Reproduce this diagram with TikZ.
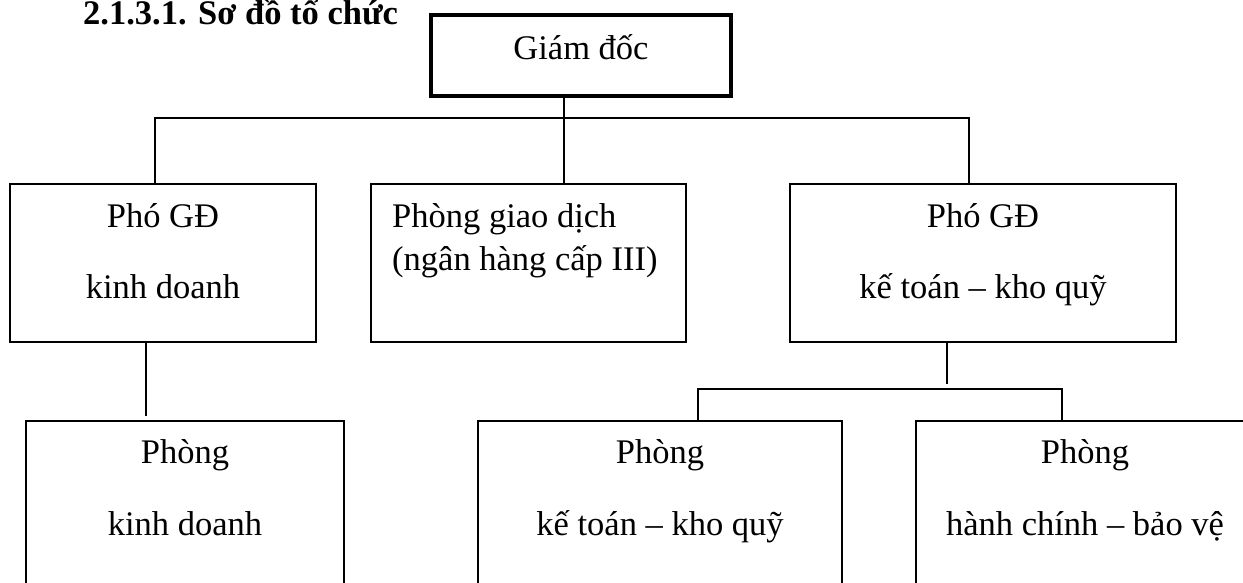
\documentclass[tikz,border=0pt]{standalone}
\usepackage{fontspec}
\setmainfont{Liberation Serif}
\tikzset{
  box/.style={draw, rectangle, line width=1.3pt, inner sep=0pt},
  bossbox/.style={draw, rectangle, line width=4pt, inner sep=0pt},
  lbl/.style={inner sep=0pt, font=\fontsize{34.5}{40}\selectfont},
  link/.style={line width=1.3pt},
}
\begin{document}
\begin{tikzpicture}[x=1pt,y=-1pt]
\path[use as bounding box] (0,0) rectangle (1243,583);
\clip (0,0) rectangle (1243,583);

% heading
\node[lbl, font=\fontsize{34.5}{40}\selectfont\bfseries, anchor=base west] (title) at (83,25) {2.1.3.1. Sơ đồ tổ chức};

% director
\node[bossbox, minimum width=300pt, minimum height=81pt] (gd) at (581,55.5) {};
\node[lbl, anchor=base] (gdt) at (581,60) {Giám đốc};

% second level
\node[box, minimum width=306pt, minimum height=158pt] (pgdkd) at (163,263) {};
\node[lbl, anchor=base] (pgdkd1) at (163,227) {Phó GĐ};
\node[lbl, anchor=base] (pgdkd2) at (163,298) {kinh doanh};

\node[box, minimum width=315pt, minimum height=158pt] (pgd) at (528.5,263) {};
\node[lbl, anchor=base west] (pgd1) at (392,227) {Phòng giao dịch};
\node[lbl, anchor=base west] (pgd2) at (392,270) {(ngân hàng cấp III)};

\node[box, minimum width=386pt, minimum height=158pt] (pgdkt) at (983,263) {};
\node[lbl, anchor=base] (pgdkt1) at (983,227) {Phó GĐ};
\node[lbl, anchor=base] (pgdkt2) at (983,298) {kế toán – kho quỹ};

% third level (boxes run past the lower edge)
\node[box, minimum width=318pt, minimum height=229pt] (pkd) at (185,535.5) {};
\node[lbl, anchor=base] (pkd1) at (185,463) {Phòng};
\node[lbl, anchor=base] (pkd2) at (185,535) {kinh doanh};

\node[box, minimum width=364pt, minimum height=229pt] (pkt) at (660,535.5) {};
\node[lbl, anchor=base] (pkt1) at (660,463) {Phòng};
\node[lbl, anchor=base] (pkt2) at (660,535) {kế toán – kho quỹ};

\node[box, minimum width=338pt, minimum height=229pt] (phc) at (1085,535.5) {};
\node[lbl, anchor=base] (phc1) at (1085,463) {Phòng};
\node[lbl, anchor=base] (phc2) at (1085,535) {hành chính – bảo vệ};

% director to second level
\coordinate (busL) at (155,118);
\coordinate (busM) at (564,118);
\coordinate (busR) at (969,118);
\draw[link] (gd.south -| busM) -- (pgd.north -| busM);
\draw[link] (busL |- pgdkd.north) -- (busL) -- (busR) -- (busR |- pgdkt.north);

% business deputy to business department
\coordinate (kdend) at (146,416);
\draw[link] (pgdkd.south -| kdend) -- (kdend);

% accounting deputy to its departments
\coordinate (ktend) at (947,384);
\draw[link] (pgdkt.south -| ktend) -- (ktend);
\coordinate (sbL) at (698,389);
\coordinate (sbR) at (1062,389);
\draw[link] (sbL |- pkt.north) -- (sbL) -- (sbR) -- (sbR |- phc.north);
\end{tikzpicture}
\end{document}
